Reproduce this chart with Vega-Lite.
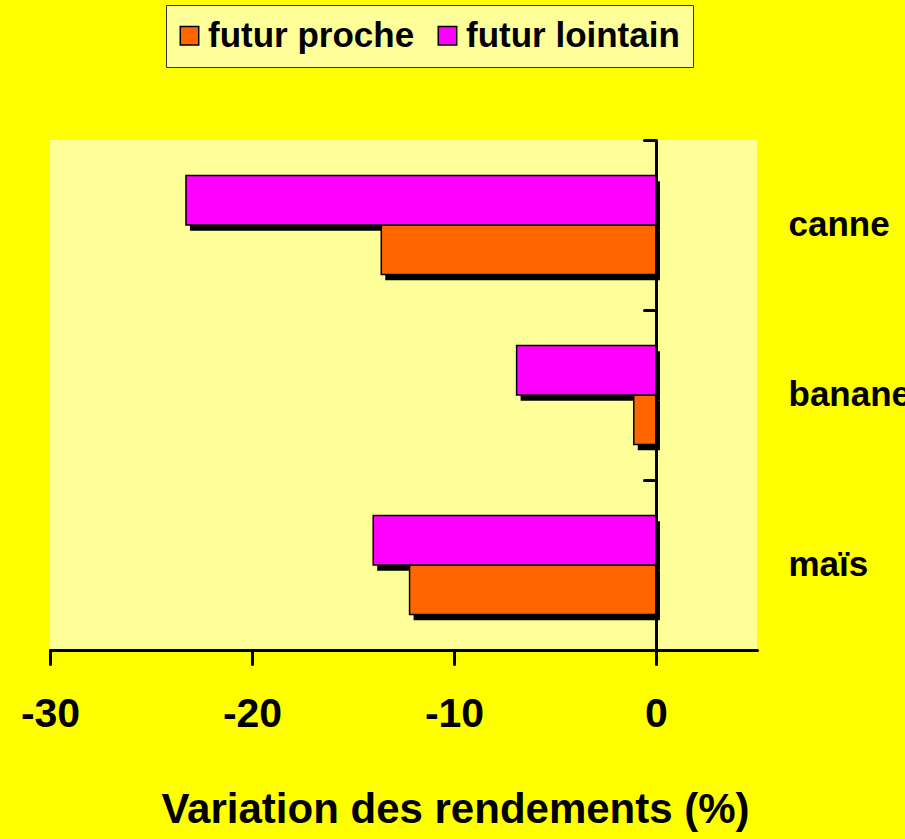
{
  "$schema": "https://vega.github.io/schema/vega-lite/v6.json",
  "width": 707,
  "height": 510,
  "autosize": {"type": "none"},
  "padding": {"left": 50, "top": 140, "right": 148, "bottom": 189},
  "background": "#FFFF00",
  "config": {
    "view": {"fill": "#FFFF99", "stroke": null},
    "font": "Liberation Sans"
  },
  "data": {
    "values": [
      {"culture": "canne", "serie": "futur proche", "valeur": -13.6},
      {"culture": "canne", "serie": "futur lointain", "valeur": -23.27},
      {"culture": "banane", "serie": "futur proche", "valeur": -1.1},
      {"culture": "banane", "serie": "futur lointain", "valeur": -6.9},
      {"culture": "maïs", "serie": "futur proche", "valeur": -12.2},
      {"culture": "maïs", "serie": "futur lointain", "valeur": -14.0}
    ]
  },
  "encoding": {
    "x": {
      "field": "valeur",
      "type": "quantitative",
      "scale": {"domain": [-30, 5], "nice": false, "zero": false},
      "axis": {
        "values": [-30, -20, -10, 0],
        "labelExpr": "'' + datum.value",
        "grid": false,
        "domainColor": "#000000",
        "domainWidth": 3,
        "domainCap": "round",
        "tickColor": "#000000",
        "tickWidth": 3,
        "tickSize": 14,
        "tickCap": "round",
        "labelFont": "Liberation Sans",
        "labelFontSize": 41,
        "labelFontWeight": "bold",
        "labelColor": "#000000",
        "labelPadding": 30,
        "labelFlush": false,
        "title": "Variation des rendements (%)",
        "titleFont": "Liberation Sans",
        "titleFontSize": 42,
        "titleFontWeight": "bold",
        "titleColor": "#000000",
        "titleAnchor": null,
        "titleAlign": "center",
        "titleBaseline": "alphabetic",
        "titleX": 405,
        "titleY": 172,
        "zindex": 1
      }
    }
  },
  "layer": [
    {
      "mark": {"type": "bar", "fill": "#000000", "xOffset": 4, "x2Offset": 4},
      "encoding": {
        "y": {
          "field": "culture",
          "type": "nominal",
          "scale": {"domain": ["canne", "banane", "maïs"], "paddingInner": 0, "paddingOuter": 0},
          "axis": {
            "orient": "left",
            "offset": -606,
            "labels": false,
            "title": null,
            "tickBand": "extent",
            "domainColor": "#000000",
            "domainWidth": 3,
            "tickColor": "#000000",
            "tickWidth": 3,
            "tickSize": 12,
            "tickCap": "round",
            "zindex": 1
          }
        },
        "yOffset": {
          "field": "serie",
          "type": "nominal",
          "scale": {"domain": ["futur lointain", "futur proche"], "paddingInner": 0, "paddingOuter": 0.717, "align": 0.58}
        }
      }
    },
    {
      "mark": {"type": "bar", "stroke": "#000000", "strokeWidth": 1.5},
      "encoding": {
        "y": {
          "field": "culture",
          "type": "nominal",
          "axis": {
            "orient": "right",
            "domain": false,
            "ticks": false,
            "title": null,
            "labelFont": "Liberation Sans",
            "labelFontSize": 35,
            "labelFontWeight": "bold",
            "labelColor": "#000000",
            "labelPadding": 31,
            "labelAlign": "left"
          }
        },
        "yOffset": {
          "field": "serie",
          "type": "nominal",
          "scale": {"domain": ["futur lointain", "futur proche"], "paddingInner": 0, "paddingOuter": 0.717}
        },
        "color": {
          "field": "serie",
          "type": "nominal",
          "scale": {"domain": ["futur proche", "futur lointain"], "range": ["#FF6600", "#FF00FF"]},
          "legend": {
            "orient": "none",
            "direction": "horizontal",
            "legendX": 116,
            "legendY": -135,
            "title": null,
            "fillColor": "#FFFF99",
            "strokeColor": "#333333",
            "padding": 13,
            "columnPadding": 20,
            "symbolType": "square",
            "symbolSize": 340,
            "symbolOffset": -7,
            "symbolStrokeColor": "#000000",
            "symbolStrokeWidth": 1.5,
            "labelFont": "Liberation Sans",
            "labelFontSize": 35,
            "labelFontWeight": "bold",
            "labelColor": "#000000",
            "labelOffset": 1,
            "labelLimit": 400
          }
        }
      }
    }
  ],
  "resolve": {"axis": {"y": "independent"}, "scale": {"yOffset": "independent"}}
}
